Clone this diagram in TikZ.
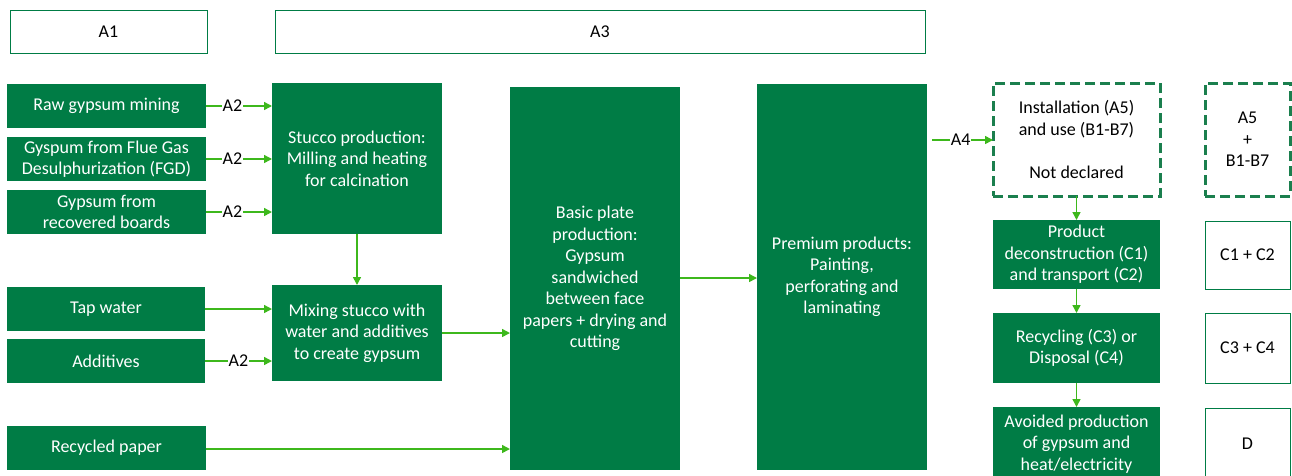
\documentclass[tikz,border=0pt]{standalone}
\usepackage{fontspec}
\setmainfont{Carlito}
\usetikzlibrary{arrows.meta}
\definecolor{gfill}{HTML}{007C45}
\definecolor{garrow}{HTML}{3DB81C}
\definecolor{gdash}{HTML}{1B7F4E}
\tikzset{
  base/.style={anchor=north west, inner sep=0pt, outer sep=0pt, align=center, font=\fontsize{18}{21.5}\selectfont},
  gbox/.style={base, fill=gfill, text=white},
  wbox/.style={base, draw=gfill, line width=1pt, fill=white, text=black},
  dbox/.style={base, draw=gdash, line width=3pt, dash pattern=on 10pt off 5pt, text=black},
  arr/.style={draw=garrow, line width=1.5pt, -{Triangle[length=8pt,width=8pt]}},
  lbl/.style={fill=white, inner sep=1pt, text=black, font=\fontsize{18}{20}\selectfont},
}
\begin{document}
\begin{tikzpicture}[x=1pt,y=-1pt]
\useasboundingbox (0,0) rectangle (1292,475);
\clip (0,0) rectangle (1292,475);
% top boxes
\node[wbox, minimum width=197pt, minimum height=43pt] (a1) at (10,10) {A1};
\node[wbox, minimum width=650pt, minimum height=43pt] (a3) at (275,10) {A3};
% left column
\node[gbox, minimum width=199pt, minimum height=44pt] (raw) at (7,84) {Raw gypsum mining};
\node[gbox, minimum width=199pt, minimum height=44pt] (fgd) at (7,137) {Gyspum from Flue Gas\\Desulphurization (FGD)};
\node[gbox, minimum width=199pt, minimum height=44pt] (rec) at (7,190) {Gypsum from\\recovered boards};
\node[gbox, minimum width=198pt, minimum height=44pt] (tap) at (7,287) {Tap water};
\node[gbox, minimum width=198pt, minimum height=44pt] (add) at (7,339) {Additives};
\node[gbox, minimum width=199pt, minimum height=44pt] (pap) at (7,426) {Recycled paper};
% second column
\node[gbox, minimum width=170pt, minimum height=151pt] (stu) at (272,83) {Stucco production:\\Milling and heating\\for calcination};
\node[gbox, minimum width=170pt, minimum height=96pt] (mix) at (272,285) {Mixing stucco with\\water and additives\\to create gypsum};
% big boxes
\node[gbox, minimum width=170pt, minimum height=383pt] (bas) at (510,87) {Basic plate\\production:\\Gypsum\\sandwiched\\between face\\papers + drying and\\cutting};
\node[gbox, minimum width=170pt, minimum height=386pt] (pre) at (757,84) {Premium products:\\Painting,\\perforating and\\laminating};
% right column
\node[dbox, minimum width=167pt, minimum height=113pt] (ins) at (993,83) {Installation (A5)\\and use (B1-B7)\\[21.5pt]Not declared};
\node[dbox, minimum width=85pt, minimum height=113pt] (ab) at (1205,83) {A5\\+\\B1-B7};
\node[gbox, minimum width=167pt, minimum height=69pt] (dec) at (993,220) {Product\\deconstruction (C1)\\and transport (C2)};
\node[wbox, minimum width=85pt, minimum height=68pt] (c12) at (1205,221) {C1 + C2};
\node[gbox, minimum width=167pt, minimum height=70pt] (rcy) at (993,313) {Recycling (C3) or\\Disposal (C4)};
\node[wbox, minimum width=85pt, minimum height=70pt] (c34) at (1205,313) {C3 + C4};
\node[gbox, minimum width=167pt, minimum height=74pt] (avo) at (993,407) {Avoided production\\of gypsum and\\heat/electricity};
\node[wbox, minimum width=85pt, minimum height=72pt] (d) at (1205,408) {D};
% connectors
\draw[arr] (raw.east |- 0,106) -- node[lbl, pos=0.4] {A2} (stu.west |- 0,106);
\draw[arr] (fgd.east |- 0,159) -- node[lbl, pos=0.4] {A2} (stu.west |- 0,159);
\draw[arr] (rec.east |- 0,212) -- node[lbl, pos=0.4] {A2} (stu.west |- 0,212);
\draw[arr] (tap.east |- 0,309) -- (mix.west |- 0,309);
\draw[arr] (add.east |- 0,361) -- node[lbl, pos=0.5] {A2} (mix.west |- 0,361);
\draw[arr] (pap.east |- 0,449) -- (bas.west |- 0,449);
\draw[arr] (stu.south -| 357,0) -- (mix.north -| 357,0);
\draw[arr] (mix.east |- 0,333) -- (bas.west |- 0,333);
\draw[arr] (bas.east |- 0,278) -- (pre.west |- 0,278);
\coordinate (a4s) at (932,140);
\draw[arr] (a4s) -- node[lbl, pos=0.47] {A4} (ins.west |- a4s);
\draw[arr] (ins.south) -- (dec.north);
\draw[arr] (dec.south) -- (rcy.north);
\draw[arr] (rcy.south) -- (avo.north);
\end{tikzpicture}
\end{document}
